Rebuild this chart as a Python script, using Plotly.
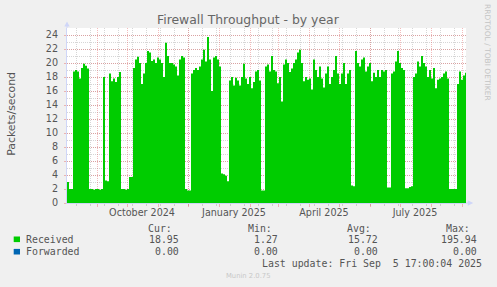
import plotly.graph_objects as go
import pandas as pd

# ---------------- data ----------------
START = "2024-08-02"          # first sample (left edge of the graph)
END = "2025-09-05"            # right edge of the graph
STEP_DAYS = 2                 # one sample every 2 days

received = [
    3.0, 2.0, 2.0, 18.8, 19.0, 18.8, 17.8, 19.3, 19.9, 19.6,
    19.2, 2.0, 2.0, 1.9, 2.0, 2.0, 1.9, 2.0, 18.0, 3.2,
    3.1, 18.5, 17.4, 17.8, 17.3, 18.0, 18.7, 2.0, 2.0, 1.9,
    2.0, 3.7, 3.7, 19.3, 20.5, 20.9, 20.0, 17.0, 18.5, 20.0,
    21.7, 21.5, 20.3, 20.5, 20.0, 20.8, 20.5, 20.0, 18.0, 22.9,
    21.0, 20.0, 20.0, 19.8, 19.5, 18.2, 20.5, 21.0, 20.8, 2.0,
    1.8, 1.8, 18.5, 19.0, 19.3, 19.0, 19.5, 20.5, 21.9, 20.2,
    23.7, 20.5, 16.0, 20.8, 21.0, 20.5, 19.5, 4.2, 4.1, 3.9,
    3.1, 17.5, 18.0, 16.8, 17.9, 17.5, 16.8, 18.0, 19.9, 17.8,
    17.0, 18.0, 16.4, 17.3, 18.8, 19.0, 17.5, 1.8, 1.8, 19.5,
    19.8, 18.8, 21.0, 19.0, 18.8, 17.1, 18.0, 14.5, 19.8, 20.5,
    20.0, 18.7, 19.2, 20.0, 20.5, 21.5, 21.9, 20.0, 17.4, 18.0,
    17.6, 17.8, 16.2, 20.5, 19.0, 18.0, 19.5, 17.8, 16.5, 18.5,
    19.5, 17.0, 18.0, 19.0, 21.0, 18.5, 17.0, 18.5, 20.0, 17.0,
    18.5, 19.0, 2.5, 2.4, 21.7, 20.0, 19.5, 20.5, 20.8, 18.8,
    19.5, 20.0, 17.4, 18.6, 18.0, 19.0, 18.0, 19.0, 18.8, 19.0,
    2.2, 2.2, 18.5, 18.8, 20.2, 21.7, 20.0, 19.3, 19.0, 2.1,
    2.1, 2.3, 2.4, 18.0, 18.5, 20.2, 19.5, 21.0, 20.0, 19.5,
    18.0, 19.0, 17.8, 19.3, 16.4, 17.6, 17.8, 18.0, 18.5, 18.8,
    17.8, 2.0, 2.0, 2.0, 2.0, 17.0, 18.8, 17.6, 18.2, 18.6,
]

series_names = ["Received", "Forwarded"]
series_colors = ["#00cc00", "#0066b3"]
stat_headers = ["Cur:", "Min:", "Avg:", "Max:"]
stat_received = [18.95, 1.27, 15.72, 195.94]
stat_forwarded = [0.00, 0.00, 0.00, 0.00]

y_ticks = list(range(0, 25, 2))
x_label_dates = ["2024-10-16", "2025-01-16", "2025-04-16", "2025-07-16"]
x_label_text = ["October 2024", "January 2025", "April 2025", "July 2025"]

title = "Firewall Throughput - by year"
y_title = "Packets/second"
last_update = "Last update: Fri Sep  5 17:00:04 2025"
watermark = "RRDTOOL / TOBI OETIKER"
footer = "Munin 2.0.75"

# ---------------- styling ----------------
W, H = 497, 287
ML, MR, MT, MB = 67, 31, 28, 84
PX0, PX1, PY0, PY1 = ML, W - MR, MT, H - MB   # plot box in pixels
FONT = "DejaVu Sans"
MONO = "DejaVu Sans Mono"
TXT = "#555555"
AXIS = "#CFD6F8"
MGRID = "rgba(224,80,80,0.38)"
GRID = "rgba(128,128,128,0.32)"
DASH = "1px,1px"


def px_x(px):
    return (px - PX0) / (PX1 - PX0)


def px_y(py):
    return (PY1 - py) / (PY1 - PY0)


dates = pd.date_range(START, periods=len(received), freq=f"{STEP_DAYS}D")
xs = list(dates) + [dates[-1] + pd.Timedelta(days=STEP_DAYS)]
ys = received + [received[-1]]

month_starts = pd.date_range("2024-09-01", "2025-09-01", freq="MS")

fig = go.Figure()
fig.add_trace(go.Scatter(
    x=xs, y=ys, mode="lines",
    line=dict(width=0, shape="hv", color=series_colors[0]),
    fill="tozeroy", fillcolor=series_colors[0],
    hoverinfo="skip", showlegend=False,
))
# invisible helper trace for the label axis
fig.add_trace(go.Scatter(x=[x_label_dates[0]], y=[None], xaxis="x2",
                         showlegend=False, hoverinfo="skip"))

fig.update_layout(
    width=W, height=H, autosize=False,
    margin=dict(l=ML, r=MR, t=MT, b=MB, pad=0),
    paper_bgcolor="#f0f0f0", plot_bgcolor="#ffffff",
    font=dict(family=FONT, color=TXT, size=10),
    showlegend=False,
    xaxis=dict(
        type="date", range=[START, END],
        tickvals=list(month_starts), showticklabels=False,
        ticks="outside", ticklen=3, tickcolor=MGRID,
        showgrid=True, gridcolor=MGRID, griddash=DASH, gridwidth=1,
        showline=True, linecolor=AXIS, linewidth=1, zeroline=False,
        minor=dict(dtick=14 * 86400000, tick0="2024-08-11", showgrid=True,
                   gridcolor=GRID, griddash=DASH, ticks="outside",
                   ticklen=2, tickcolor=GRID),
    ),
    xaxis2=dict(
        type="date", range=[START, END], overlaying="x", anchor="y",
        side="bottom", tickvals=x_label_dates, ticktext=x_label_text,
        showgrid=False, ticks="", showline=False, zeroline=False,
        tickfont=dict(family=FONT, size=9.6, color=TXT),
        ticklabelstandoff=2,
    ),
    yaxis=dict(
        range=[0, 25], tickvals=y_ticks,
        ticks="outside", ticklen=2, tickcolor=MGRID,
        showgrid=True, gridcolor=MGRID, griddash=DASH, gridwidth=1,
        showline=True, linecolor=AXIS, linewidth=1, zeroline=False,
        tickfont=dict(family=FONT, size=9.6, color=TXT),
        ticklabelstandoff=4,
        minor=dict(dtick=1, showgrid=True, gridcolor=GRID, griddash=DASH),
    ),
)

ann = []


def text(px, py, s, size, family=FONT, color=TXT, xanchor="left", angle=0):
    ann.append(dict(x=px_x(px), y=px_y(py), xref="paper", yref="paper",
                    text=s, showarrow=False, xanchor=xanchor, yanchor="middle",
                    textangle=angle, borderpad=0, borderwidth=0,
                    font=dict(family=family, size=size, color=color)))


text(248.5, 19, title, 12.4, color="#666666", xanchor="center")
text(10.8, 114, y_title, 10.9, xanchor="center", angle=-90)
text(488, 52, watermark, 7.5, color="#c4c4c4", xanchor="center", angle=90)
text(248, 276, footer, 6.8, color="#c8c8c8", xanchor="center")

# legend table
header_right = [172.3, 271.7, 370.7, 470.0]
value_right = [179.0, 278.3, 377.7, 477.3]
row_y = [239.3, 251.7]
for h, xr in zip(stat_headers, header_right):
    text(xr, 228.3, h, 9.9, family=MONO, xanchor="right")
for name, ry, vals in zip(series_names, row_y, [stat_received, stat_forwarded]):
    text(26.3, ry, name, 9.9, family=MONO)
    for v, xr in zip(vals, value_right):
        text(xr, ry, f"{v:.2f}", 9.9, family=MONO, xanchor="right")
text(482.3, 263.7, last_update.replace(" ", "\u00a0"), 9.9, family=MONO, xanchor="right")

fig.update_layout(annotations=ann)

# legend colour keys and axis arrows
shapes = []
for color, ry in zip(series_colors, row_y):
    shapes.append(dict(type="rect", xref="paper", yref="paper",
                       x0=px_x(13.7), x1=px_x(20), y0=px_y(ry + 2.8), y1=px_y(ry - 2.8),
                       fillcolor=color, line=dict(width=0)))
# y-axis arrow
shapes.append(dict(type="line", xref="paper", yref="paper", x0=0, x1=0,
                   y0=1, y1=px_y(24), line=dict(color=AXIS, width=1)))
shapes.append(dict(type="path", xref="paper", yref="paper",
                   path=f"M {px_x(64.3)} {px_y(26.5)} L {px_x(67)} {px_y(21.5)} L {px_x(69.7)} {px_y(26.5)} Z",
                   fillcolor=AXIS, line=dict(width=0)))
# x-axis arrow
shapes.append(dict(type="line", xref="paper", yref="paper", x0=1, x1=px_x(469),
                   y0=0, y1=0, line=dict(color=AXIS, width=1)))
shapes.append(dict(type="path", xref="paper", yref="paper",
                   path=f"M {px_x(467.7)} {px_y(200.3)} L {px_x(473.3)} {px_y(203)} L {px_x(467.7)} {px_y(205.7)} Z",
                   fillcolor=AXIS, line=dict(width=0)))
fig.update_layout(shapes=shapes)

fig.write_html("out.html")
